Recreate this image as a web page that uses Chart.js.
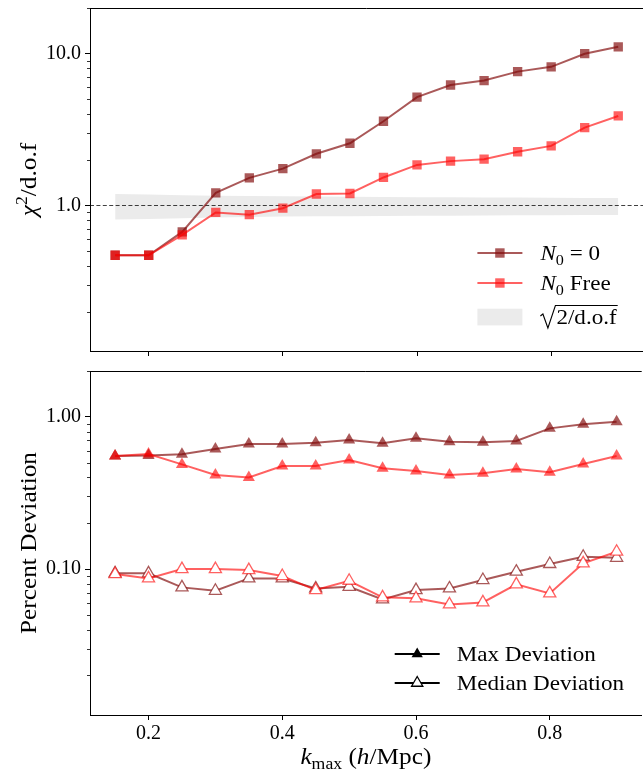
<!DOCTYPE html>
<html>
<head>
<meta charset="utf-8">
<title>chi2/dof and percent deviation vs kmax</title>
<script src="https://cdn.jsdelivr.net/npm/chart.js@4.4.1/dist/chart.umd.min.js"></script>
<style>
  html, body { margin: 0; padding: 0; background: #fff; }
  #wrap { position: relative; width: 643px; height: 773px; overflow: hidden; }
  #wrap canvas { position: absolute; left: 0; }
  #chiChart { top: 0; }
  #devChart { top: 361px; }
</style>
</head>
<body>
<div id="wrap">
  <canvas id="chiChart" width="650" height="361"></canvas>
  <canvas id="devChart" width="650" height="412"></canvas>
</div>
<script>
const kmax = [0.15, 0.20, 0.25, 0.30, 0.35, 0.40, 0.45, 0.50, 0.55, 0.60, 0.65, 0.70, 0.75, 0.80, 0.85, 0.90];

// chi^2 / d.o.f
const chiN0Zero = [0.47, 0.47, 0.67, 1.21, 1.52, 1.75, 2.19, 2.57, 3.59, 5.17, 6.22, 6.65, 7.62, 8.19, 10.0, 11.1];
const chiN0Free = [0.47, 0.47, 0.64, 0.90, 0.87, 0.96, 1.19, 1.20, 1.53, 1.85, 1.96, 2.02, 2.26, 2.47, 3.26, 3.89];
const bandUpper = [1.19, 1.18, 1.17, 1.16, 1.155, 1.15, 1.145, 1.14, 1.138, 1.135, 1.132, 1.13, 1.127, 1.125, 1.122, 1.12];
const bandLower = [0.81, 0.815, 0.825, 0.835, 0.84, 0.845, 0.848, 0.85, 0.853, 0.855, 0.857, 0.859, 0.861, 0.863, 0.865, 0.866];

// percent deviation
const maxN0Zero = [0.553, 0.557, 0.567, 0.614, 0.663, 0.663, 0.676, 0.704, 0.67, 0.723, 0.686, 0.68, 0.695, 0.84, 0.893, 0.929];
const maxN0Free = [0.553, 0.57, 0.487, 0.415, 0.40, 0.475, 0.475, 0.52, 0.459, 0.44, 0.415, 0.426, 0.454, 0.432, 0.49, 0.553];
const medN0Zero = [0.0937, 0.0937, 0.0758, 0.072, 0.0868, 0.0868, 0.0746, 0.0765, 0.0632, 0.0728, 0.0746, 0.0847, 0.0961, 0.108, 0.1205, 0.1186];
const medN0Free = [0.0927, 0.0868, 0.100, 0.100, 0.0985, 0.090, 0.0728, 0.0838, 0.0652, 0.0642, 0.0586, 0.0604, 0.0793, 0.0692, 0.109, 0.130];

// axes
const chiRange = [0.11, 20];
const devRange = [0.011, 2.0];
const kRange = [0.1125, 0.9375];
const chiTicks = [1, 10], chiTickLabels = ['1.0', '10.0'];
const devTicks = [0.1, 1], devTickLabels = ['0.10', '1.00'];
const kTicks = [0.2, 0.4, 0.6, 0.8], kTickLabels = ['0.2', '0.4', '0.6', '0.8'];

const FONT = 'Liberation Serif';
const SX = 1.1; // widen Times a bit towards Computer Modern
const DARK = 'rgba(130, 10, 10, 0.68)';
const LIGHT = 'rgba(255, 0, 0, 0.62)';
const BAND = '#ebebeb';

Chart.defaults.font.family = FONT;
Chart.defaults.color = '#000';

const pts = ys => kmax.map((k, i) => ({x: k, y: ys[i]}));
const findTick = (v, vals) => vals.findIndex(t => Math.abs(v / t - 1) < 1e-6);
const isDecade = v => Math.abs(Math.log10(v) - Math.round(Math.log10(v))) < 1e-9;

function logTicks(min, max) {
    const out = [];
    for (let e = Math.floor(Math.log10(min)); e <= Math.ceil(Math.log10(max)); e++) {
        for (let m = 1; m < 10; m++) {
            const v = m * Math.pow(10, e);
            if (v >= min * 0.999 && v <= max * 1.001) out.push(v);
        }
    }
    return out;
}

// text made of runs: italic, subscript, superscript
function runs(ctx, items, x, y, size, opts = {}) {
    const font = it => (it.i ? 'italic ' : '') + ((it.sub || it.sup) ? size * 0.7 : size) + 'px "' + FONT + '"';
    ctx.save();
    let w = 0;
    for (const it of items) { ctx.font = font(it); w += ctx.measureText(it.t).width; }
    ctx.translate(x, y);
    if (opts.rot) ctx.rotate(opts.rot);
    ctx.scale(SX, 1);
    ctx.fillStyle = '#000';
    ctx.textBaseline = 'alphabetic';
    let cx = opts.center ? -w / 2 : 0;
    for (const it of items) {
        ctx.font = font(it);
        const dy = it.sub ? size * 0.22 : it.sup ? -size * 0.4 : 0;
        ctx.fillText(it.t, cx, dy);
        cx += ctx.measureText(it.t).width;
    }
    ctx.restore();
    return w * SX;
}

function hline(ctx, x0, x1, y) {
    ctx.beginPath(); ctx.moveTo(x0, y); ctx.lineTo(x1, y); ctx.stroke();
}

function triangle(ctx, x, y, r, hollow) {
    ctx.beginPath();
    ctx.moveTo(x, y - r);
    ctx.lineTo(x + 0.866 * r, y + 0.5 * r);
    ctx.lineTo(x - 0.866 * r, y + 0.5 * r);
    ctx.closePath();
    if (hollow) { ctx.fillStyle = '#fff'; ctx.fill(); ctx.lineWidth = 1.3; ctx.stroke(); }
    else ctx.fill();
}

// top spine + short minor ticks on the log axis
function frameAndMinor(chart) {
    const {ctx, chartArea: a} = chart;
    const y = chart.scales.y;
    ctx.save();
    ctx.strokeStyle = '#000';
    ctx.lineWidth = 1;
    hline(ctx, a.left, a.right, Math.round(a.top) + 0.5);
    ctx.lineWidth = 0.8;
    y.ticks.forEach(t => {
        if (isDecade(t.value)) return;
        const py = Math.round(y.getPixelForValue(t.value)) + 0.5;
        hline(ctx, a.left - 3, a.left, py);
    });
    ctx.restore();
}

function xScale(showLabels, height) {
    return {
        type: 'linear', min: kRange[0], max: kRange[1], bounds: 'data',
        afterBuildTicks: s => { s.ticks = kTicks.map(v => ({value: v})); },
        afterFit: s => { s.height = height; s.paddingLeft = 0; s.paddingRight = 0; },
        grid: {drawOnChartArea: false, drawTicks: true, tickLength: 5, color: '#000', tickColor: '#000', tickWidth: 1},
        border: {display: true, color: '#000', width: 1},
        ticks: {
            display: showLabels, autoSkip: false, maxRotation: 0, padding: 2,
            font: {size: 20, family: FONT}, color: '#000',
            callback: v => { const i = findTick(v, kTicks); return i < 0 ? '' : kTickLabels[i]; }
        }
    };
}

function yScale(range, vals, labels) {
    return {
        type: 'logarithmic', min: range[0], max: range[1], bounds: 'data',
        afterBuildTicks: s => { s.ticks = logTicks(range[0], range[1]).map(v => ({value: v})); },
        afterFit: s => { s.width = 90; s.paddingTop = 0; s.paddingBottom = 0; },
        grid: {
            drawOnChartArea: false, drawTicks: true, tickLength: 5, tickWidth: 1,
            tickColor: c => (c.tick && isDecade(c.tick.value)) ? '#000' : 'rgba(0,0,0,0)'
        },
        border: {display: true, color: '#000', width: 1},
        ticks: {
            autoSkip: false, padding: 4, font: {size: 20, family: FONT}, color: '#000',
            callback: v => { const i = findTick(v, vals); return i < 0 ? '' : labels[i]; }
        }
    };
}

function series(label, ys, color, style, hollow, order) {
    return {
        label, data: pts(ys), order,
        borderColor: color, backgroundColor: color, borderWidth: 2, tension: 0, fill: false,
        pointStyle: style, pointRadius: style === 'rect' ? 6.6 : 7,
        pointBackgroundColor: hollow ? '#fff' : color, pointBorderColor: color,
        pointBorderWidth: hollow ? 1.3 : 0
    };
}

const baseOptions = {
    responsive: false, animation: false, events: [],
    plugins: {legend: {display: false}, tooltip: {enabled: false}}
};

// top panel
const chiDecor = {
    id: 'chiDecor',
    beforeDatasetDraw(chart, args) {
        if (args.index !== 1) return;
        const {ctx, chartArea: a} = chart;
        const py = chart.scales.y.getPixelForValue(1);
        ctx.save();
        ctx.strokeStyle = 'rgba(0,0,0,0.75)';
        ctx.lineWidth = 1.2;
        ctx.setLineDash([4, 2.4]);
        hline(ctx, a.left, a.right, py);
        ctx.restore();
    },
    afterDraw(chart) {
        const {ctx, chartArea: a} = chart;
        frameAndMinor(chart);
        runs(ctx, [{t: 'χ', i: true}, {t: '2', sup: true}, {t: '/d.o.f'}], 36, (a.top + a.bottom) / 2, 23, {rot: -Math.PI / 2, center: true});

        const x0 = a.right - 166, x1 = a.right - 121, xm = (x0 + x1) / 2, tx = a.right - 103;
        const rows = [a.bottom - 98, a.bottom - 68, a.bottom - 34];
        ctx.save();
        [[DARK, [{t: 'N', i: true}, {t: '0', sub: true}, {t: ' = 0'}]],
         [LIGHT, [{t: 'N', i: true}, {t: '0', sub: true}, {t: ' Free'}]]].forEach(([c, txt], j) => {
            const y = rows[j];
            ctx.strokeStyle = c; ctx.lineWidth = 2;
            hline(ctx, x0, x1, y);
            ctx.fillStyle = c;
            ctx.fillRect(xm - 4.7, y - 4.7, 9.4, 9.4);
            runs(ctx, txt, tx, y + 7, 21);
        });
        ctx.fillStyle = BAND;
        ctx.fillRect(x0, rows[2] - 8.3, x1 - x0, 16.7);
        const by = rows[2] + 7;
        const w = runs(ctx, [{t: '2/d.o.f'}], tx + 16, by, 21);
        ctx.strokeStyle = '#000'; ctx.lineWidth = 1.1;
        ctx.beginPath();
        ctx.moveTo(tx, by - 8); ctx.lineTo(tx + 2.5, by - 10); ctx.lineTo(tx + 7.5, by + 4);
        ctx.lineTo(tx + 15, by - 18.5); ctx.lineTo(tx + 17 + w, by - 18.5);
        ctx.stroke();
        ctx.restore();
    }
};

new Chart(document.getElementById('chiChart'), {
    type: 'line',
    data: {
        datasets: [
            series('N0 Free', chiN0Free, LIGHT, 'rect', false, 0),
            series('N0 = 0', chiN0Zero, DARK, 'rect', false, 1),
            {label: 'band', data: pts(bandUpper), order: 5, borderWidth: 0, pointRadius: 0, fill: '+1', backgroundColor: BAND},
            {label: 'band lower', data: pts(bandLower), order: 5, borderWidth: 0, pointRadius: 0, fill: false}
        ]
    },
    options: {
        ...baseOptions,
        layout: {padding: {top: 8, right: 5, left: 0, bottom: 0}},
        scales: {x: xScale(false, 10), y: yScale(chiRange, chiTicks, chiTickLabels)}
    },
    plugins: [chiDecor]
});

// bottom panel
const devDecor = {
    id: 'devDecor',
    afterDraw(chart) {
        const {ctx, chartArea: a} = chart;
        frameAndMinor(chart);
        runs(ctx, [{t: 'Percent Deviation'}], 36, (a.top + a.bottom) / 2, 23, {rot: -Math.PI / 2, center: true});
        runs(ctx, [{t: 'k', i: true}, {t: 'max', sub: true}, {t: ' ('}, {t: 'h', i: true}, {t: '/Mpc)'}],
            (a.left + a.right) / 2, a.bottom + 49, 23, {center: true});

        const x0 = a.right - 247, x1 = a.right - 202, xm = (x0 + x1) / 2, tx = a.right - 185;
        const rows = [a.bottom - 61, a.bottom - 32];
        ctx.save();
        [['Max Deviation', false], ['Median Deviation', true]].forEach(([txt, hollow], j) => {
            const y = rows[j];
            ctx.lineWidth = 2; ctx.strokeStyle = '#000'; ctx.fillStyle = '#000';
            hline(ctx, x0, x1, y);
            triangle(ctx, xm, y, 6.5, hollow);
            runs(ctx, [{t: txt}], tx, y + 7, 21);
        });
        ctx.restore();
    }
};

new Chart(document.getElementById('devChart'), {
    type: 'line',
    data: {
        datasets: [
            series('Max N0 Free', maxN0Free, LIGHT, 'triangle', false, 0),
            series('Max N0 = 0', maxN0Zero, DARK, 'triangle', false, 1),
            series('Median N0 Free', medN0Free, LIGHT, 'triangle', true, 2),
            series('Median N0 = 0', medN0Zero, DARK, 'triangle', true, 3)
        ]
    },
    options: {
        ...baseOptions,
        layout: {padding: {top: 10, right: 5, left: 0, bottom: 0}},
        scales: {x: xScale(true, 58), y: yScale(devRange, devTicks, devTickLabels)}
    },
    plugins: [devDecor]
});
</script>
</body>
</html>
